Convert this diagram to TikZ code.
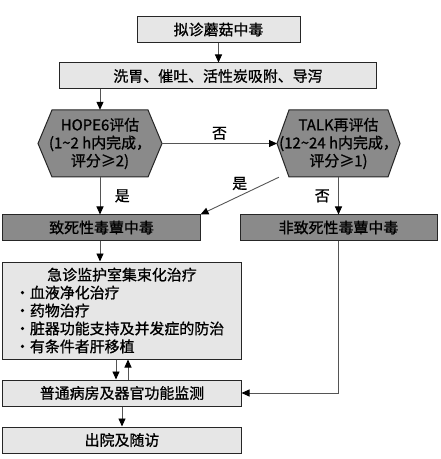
\documentclass[tikz,border=0pt]{standalone}
\usepackage{fontspec}
\setmainfont{Noto Sans CJK SC}[FakeBold=1]
\usetikzlibrary{arrows.meta,calc,positioning}
\definecolor{BoxLight}{HTML}{E6E6E6}
\definecolor{BoxDark}{HTML}{8A8A8A}
\definecolor{LineGray}{HTML}{555555}
\tikzset{
  every node/.style={font=\fontsize{15}{18}\selectfont},
  lightbox/.style={draw=black!85,line width=1bp,fill=BoxLight,minimum height=26bp,inner sep=0pt},
  darkbox/.style={lightbox,fill=BoxDark,minimum height=25bp},
  hexfill/.style={draw=black!85,line width=1bp,fill=BoxDark},
  flow/.style={draw=LineGray,line width=0.9bp,-{Triangle[length=8bp,width=7bp,color=black]}},
}

\begin{document}
\begin{tikzpicture}[x=1bp,y=-1bp]
  \useasboundingbox (0,0) rectangle (441,459);
  % --- first steps ---
  \node[lightbox,minimum width=163bp] (suspect) at (218.5,29.5) {拟诊蘑菇中毒};
  \node[lightbox,minimum width=316bp] (clean) at (218,76) {洗胃、催吐、活性炭吸附、导泻};
  % --- HOPE6 hexagon ---
  \coordinate (hopeW) at (38,143.5);
  \coordinate (hopeE) at (162,143.5);
  \draw[hexfill] (52,110) -- (148,110) -- (hopeE) -- (148,177) -- (52,177) -- (hopeW) -- cycle;
  \node[minimum width=96bp,minimum height=67bp,inner sep=0pt,align=center] (hope) at (100,143.5)
    {HOPE6评估\\(1\textasciitilde2 h内完成，\\评分≥2)};
  % --- TALK hexagon ---
  \coordinate (talkW) at (277,143.5);
  \coordinate (talkE) at (400,143.5);
  \draw[hexfill] (289,110) -- (388,110) -- (talkE) -- (388,177) -- (289,177) -- (talkW) -- cycle;
  \node[minimum width=99bp,minimum height=67bp,inner sep=0pt,align=center] (talk) at (338.5,143.5)
    {TALK再评估\\(12\textasciitilde24 h内完成，\\评分≥1)};
  % --- outcome boxes ---
  \node[darkbox,minimum width=197bp] (lethal) at (101.5,227.5) {致死性毒蕈中毒};
  \node[darkbox,minimum width=197bp] (nonlethal) at (338.5,227.5) {非致死性毒蕈中毒};
  \node[lightbox,minimum width=238bp,minimum height=97bp,inner xsep=12bp,text width=214bp,align=left]
    (icu) at (122,310.5)
    {\makebox[\linewidth][c]{急诊监护室集束化治疗}\\
     ·血液净化治疗\\
     ·药物治疗\\
     ·脏器功能支持及并发症的防治\\
     ·有条件者肝移植};
  \node[lightbox,minimum width=238bp] (ward) at (122,393) {普通病房及器官功能监测};
  \node[lightbox,minimum width=238bp] (discharge) at (122,440) {出院及随访};
  % --- connectors ---
  \draw[flow] (suspect.south) -- (suspect.south |- clean.north);
  \draw[flow] (hope.north |- clean.south) -- (hope.north);
  \draw[flow] (hopeE) -- node[above] (lblNoA) {否} (talkW);
  \draw[flow] (hope.south) -- node[right=11bp] (lblYesA) {是} (hope.south |- lethal.north);
  \draw[flow] (talk.south west) -- node[above=2bp] (lblYesB) {是} (lethal.north east);
  \draw[flow] (talk.south) -- node[left=5bp] (lblNoB) {否} (nonlethal.north);
  \draw[flow] (hope.south |- lethal.south) -- (hope.south |- icu.north);
  \draw[flow] ([xshift=-6bp]icu.south) -- ([xshift=-6bp]ward.north);
  \draw[flow] ([xshift=6bp]ward.north) -- ([xshift=6bp]icu.south);
  \draw[flow] (nonlethal.south) |- (ward.east);
  \draw[flow] (ward.south) -- (discharge.north);
\end{tikzpicture}
\end{document}
